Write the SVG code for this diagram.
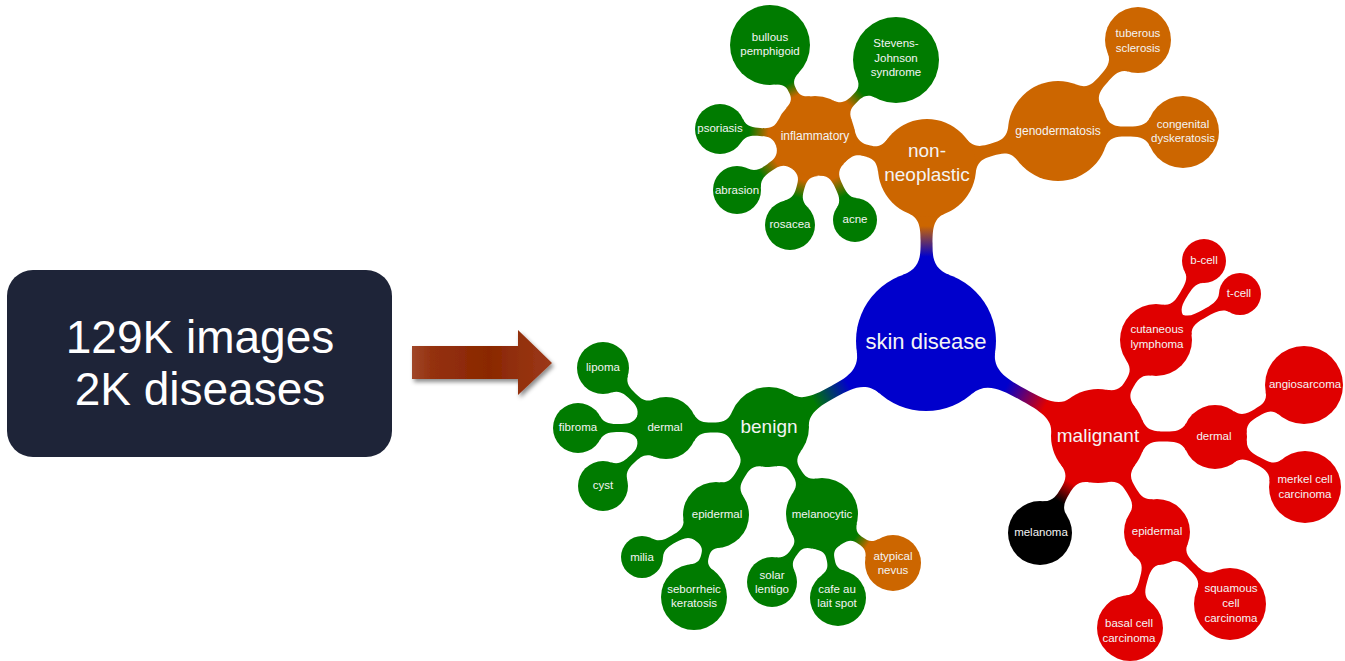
<svg xmlns="http://www.w3.org/2000/svg" width="1345" height="661" viewBox="0 0 1345 661">
<style>
.bl{fill:#0000cc}.or{fill:#cc6600}.gr{fill:#007b00}.rd{fill:#e00000}.bk{fill:#000}
text{font-family:"Liberation Sans",Arial,sans-serif;fill:#f4f4f4;text-anchor:middle}
.big{font-size:19px}.huge{font-size:22px}.mid{font-size:12px}.leaf{font-size:11.5px}
.box{font-size:46px;fill:#fff}
</style>
<defs>
<linearGradient id="gBO" x1="0" y1="0" x2="1" y2="0"><stop offset="0.3" stop-color="#0000cc"/><stop offset="0.8" stop-color="#cc6600"/></linearGradient>
<linearGradient id="gBG" x1="0" y1="0" x2="1" y2="0"><stop offset="0.3" stop-color="#0000cc"/><stop offset="0.8" stop-color="#007b00"/></linearGradient>
<linearGradient id="gBR" x1="0" y1="0" x2="1" y2="0"><stop offset="0.3" stop-color="#0000cc"/><stop offset="0.8" stop-color="#e00000"/></linearGradient>
<linearGradient id="gOG" x1="0" y1="0" x2="1" y2="0"><stop offset="0.25" stop-color="#cc6600"/><stop offset="0.8" stop-color="#007b00"/></linearGradient>
<linearGradient id="gRK" x1="0" y1="0" x2="1" y2="0"><stop offset="0.25" stop-color="#e00000"/><stop offset="0.8" stop-color="#000"/></linearGradient>
<linearGradient id="gGO" x1="0" y1="0" x2="1" y2="0"><stop offset="0.25" stop-color="#007b00"/><stop offset="0.8" stop-color="#cc6600"/></linearGradient>
<linearGradient id="gArrow" x1="0" y1="0" x2="1" y2="0"><stop offset="0" stop-color="#a0472a"/><stop offset="0.15" stop-color="#94300d"/><stop offset="0.55" stop-color="#8a2802"/><stop offset="1" stop-color="#9c3818"/></linearGradient>
<filter id="shadow" x="-10%" y="-20%" width="130%" height="150%"><feDropShadow dx="2" dy="3" stdDeviation="2" flood-color="#000" flood-opacity="0.45"/></filter>
</defs>

<g id="source-box">
<rect x="7" y="270" width="385" height="187" rx="26" fill="#1e2438"/>
<text class="box" x="200" y="353">129K images</text>
<text class="box" x="200" y="405">2K diseases</text>
</g>
<g id="big-arrow">
<polygon points="412,346 518,346 518,330 552,363 518,395 518,379 412,379" fill="url(#gArrow)" filter="url(#shadow)"/>
</g>

<g id="connectors">
<path fill="url(#gBO)" transform="matrix(0.0058,-1,1,0.0058,926,341)" d="M65.8,24C72.3,6 84.9,6 97.5,6C110.1,6 122.7,6 127.4,18L127.4,-18C122.7,-6 110.1,-6 97.5,-6C84.9,-6 72.3,-6 65.8,-24Z"/>
<path fill="url(#gBG)" transform="matrix(-0.877,0.4804,-0.4804,-0.877,926,341)" d="M65.8,24C72.3,6 88.6,6 104.8,6C121,6 137.2,6 143.3,18L143.3,-18C137.2,-6 121,-6 104.8,-6C88.6,-6 72.3,-6 65.8,-24Z"/>
<path fill="url(#gBR)" transform="matrix(0.8753,0.4835,-0.4835,0.8753,926,341)" d="M65.8,24C72.3,6 91.2,6 110.1,6C128.9,6 147.8,6 153.5,19L153.5,-19C147.8,-6 128.9,-6 110.1,-6C91.2,-6 72.3,-6 65.8,-24Z"/>
<path class="or" transform="matrix(-0.9615,-0.2747,0.2747,-0.9615,927,168)" d="M45.6,18C50.3,6 56.4,6 62.5,6C68.6,6 74.7,6 80.8,18L80.8,-18C74.7,-6 68.6,-6 62.5,-6C56.4,-6 50.3,-6 45.6,-18Z"/>
<path class="or" transform="matrix(0.9625,-0.2719,0.2719,0.9625,927,168)" d="M45.6,18C50.3,6 58.9,6 67.6,6C76.2,6 84.8,6 89.5,18L89.5,-18C84.8,-6 76.2,-6 67.6,-6C58.9,-6 50.3,-6 45.6,-18Z"/>
<path class="or" transform="matrix(0.6602,-0.751,0.751,0.6602,1058,131)" d="M47.4,16C51.1,5 60.1,5 69.1,5C78.1,5 87.1,5 91.3,14L91.3,-14C87.1,-5 78.1,-5 69.1,-5C60.1,-5 51.1,-5 47.4,-16Z"/>
<path class="or" transform="matrix(1,0.008,-0.008,1,1058,131)" d="M47.4,16C51.1,5 60.2,5 69.4,5C78.5,5 87.7,5 92.3,15L92.3,-15C87.7,-5 78.5,-5 69.4,-5C60.2,-5 51.1,-5 47.4,-16Z"/>
<path fill="url(#gOG)" transform="matrix(-0.4433,-0.8964,0.8964,-0.4433,815,136)" d="M37.5,14C41.2,4 46,4 50.8,4C55.5,4 60.3,4 64.1,14L64.1,-14C60.3,-4 55.5,-4 50.8,-4C46,-4 41.2,-4 37.5,-14Z"/>
<path fill="url(#gOG)" transform="matrix(0.7293,-0.6843,0.6843,0.7293,815,136)" d="M37.5,14C41.2,4 47.7,4 54.1,4C60.5,4 67,4 70.4,14L70.4,-14C67,-4 60.5,-4 54.1,-4C47.7,-4 41.2,-4 37.5,-14Z"/>
<path fill="url(#gOG)" transform="matrix(-0.9973,-0.0735,0.0735,-0.9973,815,136)" d="M37.5,14C41.2,4 48.2,4 55.1,4C62,4 69,4 73.3,12L73.3,-12C69,-4 62,-4 55.1,-4C48.2,-4 41.2,-4 37.5,-14Z"/>
<path fill="url(#gOG)" transform="matrix(-0.8222,0.5692,-0.5692,-0.8222,815,136)" d="M37.5,14C41.2,4 48.3,4 55.3,4C62.4,4 69.5,4 74.1,12L74.1,-12C69.5,-4 62.4,-4 55.3,-4C48.3,-4 41.2,-4 37.5,-14Z"/>
<path fill="url(#gOG)" transform="matrix(-0.2704,0.9628,-0.9628,-0.2704,815,136)" d="M37.5,14C41.2,4 47.4,4 53.7,4C59.9,4 66.1,4 70.5,12L70.5,-12C66.1,-4 59.9,-4 53.7,-4C47.4,-4 41.2,-4 37.5,-14Z"/>
<path fill="url(#gOG)" transform="matrix(0.4299,0.9028,-0.9028,0.4299,815,136)" d="M37.5,14C41.2,4 48.4,4 55.6,4C62.8,4 70,4 74,11L74,-11C70,-4 62.8,-4 55.6,-4C48.4,-4 41.2,-4 37.5,-14Z"/>
<path class="rd" transform="matrix(0.5171,-0.8559,0.8559,0.5171,1098,436)" d="M43.8,17C48.5,5 55.1,5 61.7,5C68.3,5 74.9,5 79.4,15L79.4,-15C74.9,-5 68.3,-5 61.7,-5C55.1,-5 48.5,-5 43.8,-17Z"/>
<path class="rd" transform="matrix(1,0.0085,-0.0085,1,1098,436)" d="M43.8,17C48.5,5 57.3,5 66.2,5C75,5 83.9,5 88.2,14L88.2,-14C83.9,-5 75,-5 66.2,-5C57.3,-5 48.5,-5 43.8,-17Z"/>
<path fill="url(#gRK)" transform="matrix(-0.5132,0.8583,-0.8583,-0.5132,1098,436)" d="M43.8,17C48.5,5 56.3,5 64.2,5C72,5 79.9,5 84.3,14L84.3,-14C79.9,-5 72,-5 64.2,-5C56.3,-5 48.5,-5 43.8,-17Z"/>
<path class="rd" transform="matrix(0.5236,0.852,-0.852,0.5236,1098,436)" d="M43.8,17C48.5,5 56,5 63.5,5C71.1,5 78.6,5 82.8,14L82.8,-14C78.6,-5 71.1,-5 63.5,-5C56,-5 48.5,-5 43.8,-17Z"/>
<path class="rd" transform="matrix(0.5193,-0.8546,0.8546,0.5193,1156,340)" d="M33.6,13C37.1,4 45.1,4 53.2,4C61.3,4 69.4,4 73.4,11L73.4,-11C69.4,-4 61.3,-4 53.2,-4C45.1,-4 37.1,-4 33.6,-13Z"/>
<path class="rd" transform="matrix(0.8771,-0.4803,0.4803,0.8771,1156,340)" d="M33.6,13C37.1,4 46.2,4 55.3,4C64.5,4 73.6,4 77.9,11L77.9,-11C73.6,-4 64.5,-4 55.3,-4C46.2,-4 37.1,-4 33.6,-13Z"/>
<path class="rd" transform="matrix(0.8634,-0.5045,0.5045,0.8634,1215,437)" d="M29.2,13C33.2,4 40.7,4 48.2,4C55.7,4 63.1,4 66.3,13L66.3,-13C63.1,-4 55.7,-4 48.2,-4C40.7,-4 33.2,-4 29.2,-13Z"/>
<path class="rd" transform="matrix(0.8741,0.4856,-0.4856,0.8741,1215,437)" d="M29.2,13C33.2,4 41.4,4 49.6,4C57.7,4 65.9,4 69.4,13L69.4,-13C65.9,-4 57.7,-4 49.6,-4C41.4,-4 33.2,-4 29.2,-13Z"/>
<path class="rd" transform="matrix(-0.2708,0.9627,-0.9627,-0.2708,1157,532)" d="M29.9,13C33.8,4 41.8,4 49.9,4C57.9,4 65.9,4 69.8,13L69.8,-13C65.9,-4 57.9,-4 49.9,-4C41.8,-4 33.8,-4 29.9,-13Z"/>
<path class="rd" transform="matrix(0.712,0.7022,-0.7022,0.712,1157,532)" d="M29.9,13C33.8,4 41.7,4 49.6,4C57.6,4 65.5,4 69,13L69,-13C65.5,-4 57.6,-4 49.6,-4C41.7,-4 33.8,-4 29.9,-13Z"/>
<path class="gr" transform="matrix(-1,0.0097,-0.0097,-1,769,427)" d="M37.1,15C41.1,5 48.5,5 56,5C63.4,5 70.8,5 75.3,14L75.3,-14C70.8,-5 63.4,-5 56,-5C48.5,-5 41.1,-5 37.1,-15Z"/>
<path class="gr" transform="matrix(-0.5159,0.8566,-0.8566,-0.5159,769,427)" d="M37.1,15C41.1,5 48,5 54.9,5C61.8,5 68.6,5 72.9,14L72.9,-14C68.6,-5 61.8,-5 54.9,-5C48,-5 41.1,-5 37.1,-15Z"/>
<path class="gr" transform="matrix(0.5203,0.854,-0.854,0.5203,769,427)" d="M37.1,15C41.1,5 47.1,5 53,5C59,5 64.9,5 68.7,14L68.7,-14C64.9,-5 59,-5 53,-5C47.1,-5 41.1,-5 37.1,-15Z"/>
<path class="gr" transform="matrix(-0.7241,-0.6897,0.6897,-0.7241,666,428)" d="M28.1,13C32.3,4 39.2,4 46,4C52.9,4 59.8,4 63.9,12L63.9,-12C59.8,-4 52.9,-4 46,-4C39.2,-4 32.3,-4 28.1,-13Z"/>
<path class="gr" transform="matrix(-1,0,0,-1,666,428)" d="M28.1,13C32.3,4 39.7,4 47,4C54.3,4 61.7,4 66.1,12L66.1,-12C61.7,-4 54.3,-4 47,-4C39.7,-4 32.3,-4 28.1,-13Z"/>
<path class="gr" transform="matrix(-0.7357,0.6773,-0.6773,-0.7357,666,428)" d="M28.1,13C32.3,4 39.1,4 45.8,4C52.6,4 59.3,4 63.7,12L63.7,-12C59.3,-4 52.6,-4 45.8,-4C39.1,-4 32.3,-4 28.1,-13Z"/>
<path class="gr" transform="matrix(-0.8697,0.4936,-0.4936,-0.8697,716,515)" d="M29.9,13C33.8,4 41.1,4 48.4,4C55.6,4 62.9,4 67.2,11L67.2,-11C62.9,-4 55.6,-4 48.4,-4C41.1,-4 33.8,-4 29.9,-13Z"/>
<path class="gr" transform="matrix(-0.2591,0.9658,-0.9658,-0.2591,716,515)" d="M29.9,13C33.8,4 38.1,4 42.5,4C46.8,4 51.1,4 55,13L55,-13C51.1,-4 46.8,-4 42.5,-4C38.1,-4 33.8,-4 29.9,-13Z"/>
<path class="gr" transform="matrix(-0.5924,0.8057,-0.8057,-0.5924,822,514)" d="M33.6,13C37.1,4 42.3,4 47.6,4C52.8,4 58.1,4 62.5,12L62.5,-12C58.1,-4 52.8,-4 47.6,-4C42.3,-4 37.1,-4 33.6,-13Z"/>
<path class="gr" transform="matrix(0.1871,0.9823,-0.9823,0.1871,822,514)" d="M33.6,13C37.1,4 41.9,4 46.7,4C51.6,4 56.4,4 60.2,12L60.2,-12C56.4,-4 51.6,-4 46.7,-4C41.9,-4 37.1,-4 33.6,-13Z"/>
<path fill="url(#gGO)" transform="matrix(0.823,0.568,-0.568,0.823,822,514)" d="M33.6,13C37.1,4 42.1,4 47.1,4C52.2,4 57.2,4 61,12L61,-12C57.2,-4 52.2,-4 47.1,-4C42.1,-4 37.1,-4 33.6,-13Z"/>
</g>

<g id="n-skin-disease"><circle class="bl" cx="926" cy="341" r="70"/><text class="huge" x="926" y="349">skin disease</text></g>
<g id="n-non-neoplastic"><circle class="or" cx="927" cy="168" r="49"/><text class="big" x="927" y="157">non-</text><text class="big" x="927" y="181">neoplastic</text></g>
<g id="n-genodermatosis"><circle class="or" cx="1058" cy="131" r="50"/><text class="mid" x="1058" y="135">genodermatosis</text></g>
<g id="n-tuberous-sclerosis"><circle class="or" cx="1138" cy="40" r="33"/><text class="leaf" x="1138" y="37">tuberous</text><text class="leaf" x="1138" y="52">sclerosis</text></g>
<g id="n-congenital-dyskeratosis"><circle class="or" cx="1183" cy="132" r="36"/><text class="leaf" x="1183" y="128">congenital</text><text class="leaf" x="1183" y="142">dyskeratosis</text></g>
<g id="n-inflammatory"><circle class="or" cx="815" cy="136" r="40"/><text class="mid" x="815" y="140">inflammatory</text></g>
<g id="n-bullous-pemphigoid"><circle class="gr" cx="770" cy="45" r="40"/><text class="leaf" x="770" y="41">bullous</text><text class="leaf" x="770" y="55">pemphigoid</text></g>
<g id="n-stevens-johnson"><circle class="gr" cx="896" cy="60" r="43"/><text class="leaf" x="896" y="47">Stevens-</text><text class="leaf" x="896" y="62">Johnson</text><text class="leaf" x="896" y="76">syndrome</text></g>
<g id="n-psoriasis"><circle class="gr" cx="720" cy="129" r="25"/><text class="leaf" x="720" y="132">psoriasis</text></g>
<g id="n-abrasion"><circle class="gr" cx="737" cy="190" r="24"/><text class="leaf" x="737" y="194">abrasion</text></g>
<g id="n-rosacea"><circle class="gr" cx="790" cy="225" r="25"/><text class="leaf" x="790" y="228">rosacea</text></g>
<g id="n-acne"><circle class="gr" cx="855" cy="220" r="22"/><text class="leaf" x="855" y="223">acne</text></g>
<g id="n-malignant"><circle class="rd" cx="1098" cy="436" r="47"/><text class="big" x="1098" y="442">malignant</text></g>
<g id="n-cutaneous-lymphoma"><circle class="rd" cx="1156" cy="340" r="36"/><text class="leaf" x="1157" y="333">cutaneous</text><text class="leaf" x="1157" y="348">lymphoma</text></g>
<g id="n-b-cell"><circle class="rd" cx="1204" cy="261" r="22"/><text class="leaf" x="1204" y="264">b-cell</text></g>
<g id="n-t-cell"><circle class="rd" cx="1240" cy="294" r="21"/><text class="leaf" x="1239" y="297">t-cell</text></g>
<g id="n-malignant-dermal"><circle class="rd" cx="1215" cy="437" r="32"/><text class="leaf" x="1214" y="440">dermal</text></g>
<g id="n-angiosarcoma"><circle class="rd" cx="1304" cy="385" r="39"/><text class="leaf" x="1305" y="388">angiosarcoma</text></g>
<g id="n-merkel-cell-carcinoma"><circle class="rd" cx="1305" cy="487" r="36"/><text class="leaf" x="1305" y="483">merkel cell</text><text class="leaf" x="1305" y="498">carcinoma</text></g>
<g id="n-melanoma"><circle class="bk" cx="1040" cy="533" r="32"/><text class="leaf" x="1041" y="536">melanoma</text></g>
<g id="n-malignant-epidermal"><circle class="rd" cx="1157" cy="532" r="33"/><text class="leaf" x="1157" y="535">epidermal</text></g>
<g id="n-basal-cell-carcinoma"><circle class="rd" cx="1130" cy="628" r="33"/><text class="leaf" x="1129" y="627">basal cell</text><text class="leaf" x="1129" y="642">carcinoma</text></g>
<g id="n-squamous-cell-carcinoma"><circle class="rd" cx="1230" cy="604" r="36"/><text class="leaf" x="1231" y="592">squamous</text><text class="leaf" x="1231" y="607">cell</text><text class="leaf" x="1231" y="622">carcinoma</text></g>
<g id="n-benign"><circle class="gr" cx="769" cy="427" r="40"/><text class="big" x="769" y="433">benign</text></g>
<g id="n-benign-dermal"><circle class="gr" cx="666" cy="428" r="31"/><text class="leaf" x="665" y="431">dermal</text></g>
<g id="n-lipoma"><circle class="gr" cx="603" cy="368" r="26"/><text class="leaf" x="603" y="371">lipoma</text></g>
<g id="n-fibroma"><circle class="gr" cx="578" cy="428" r="25"/><text class="leaf" x="578" y="431">fibroma</text></g>
<g id="n-cyst"><circle class="gr" cx="603" cy="486" r="25"/><text class="leaf" x="603" y="489">cyst</text></g>
<g id="n-benign-epidermal"><circle class="gr" cx="716" cy="515" r="33"/><text class="leaf" x="717" y="518">epidermal</text></g>
<g id="n-melanocytic"><circle class="gr" cx="822" cy="514" r="36"/><text class="leaf" x="822" y="518">melanocytic</text></g>
<g id="n-milia"><circle class="gr" cx="642" cy="557" r="21"/><text class="leaf" x="642" y="561">milia</text></g>
<g id="n-seborrheic-keratosis"><circle class="gr" cx="694" cy="597" r="33"/><text class="leaf" x="694" y="593">seborrheic</text><text class="leaf" x="694" y="607">keratosis</text></g>
<g id="n-solar-lentigo"><circle class="gr" cx="772" cy="582" r="25"/><text class="leaf" x="772" y="579">solar</text><text class="leaf" x="772" y="593">lentigo</text></g>
<g id="n-cafe-au-lait-spot"><circle class="gr" cx="838" cy="598" r="28"/><text class="leaf" x="837" y="593">cafe au</text><text class="leaf" x="837" y="607">lait spot</text></g>
<g id="n-atypical-nevus"><circle class="or" cx="893" cy="563" r="28"/><text class="leaf" x="893" y="560">atypical</text><text class="leaf" x="893" y="574">nevus</text></g>
</svg>
